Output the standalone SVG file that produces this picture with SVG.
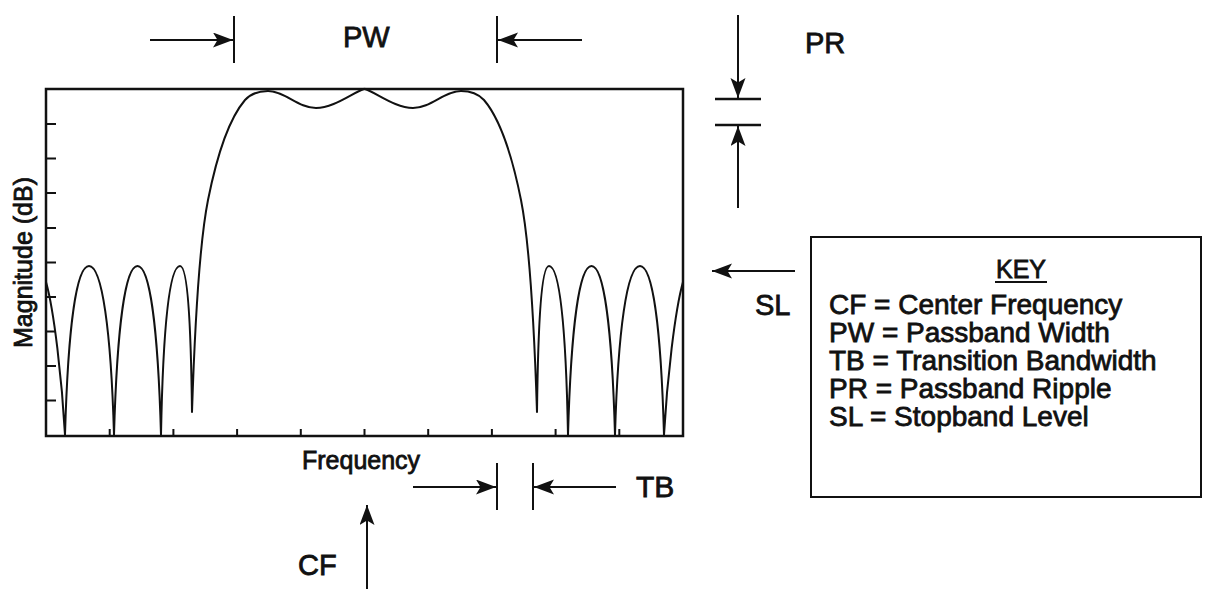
<svg xmlns="http://www.w3.org/2000/svg" xmlns:xlink="http://www.w3.org/1999/xlink" width="1205" height="589" viewBox="0 0 1205 589">
<style>
.ln{stroke:#111;stroke-width:2;fill:none}
.fr{stroke:#111;stroke-width:2.5;fill:none}
.cv{stroke:#111;stroke-width:2;fill:none;stroke-linejoin:round}
.tk{stroke:#111;stroke-width:2}
.t{font-family:"Liberation Sans",Arial,sans-serif;fill:#111;stroke:#111;stroke-width:0.8}
.arr{stroke:#111;stroke-width:2;fill:none;marker-end:url(#ah)}
</style>
<defs>
<marker id="ah" markerUnits="userSpaceOnUse" markerWidth="22" markerHeight="16" refX="20" refY="7.5" orient="auto">
<path d="M0,0 L20,7.5 L0,15 L4.5,7.5 Z" fill="#111"/>
</marker>
</defs>
<rect width="1205" height="589" fill="#fff"/>

<g id="plot">
<rect x="46" y="89" width="637" height="347" class="fr"/>
<g id="yticks">
<path class="tk" d="M46,124H56M46,158.5H56M46,193H56M46,228H56M46,262.5H56M46,297H56M46,331.5H56M46,366H56M46,400.5H56"/>
</g>
<g id="xticks">
<path class="tk" d="M109.7,436V429M173.4,436V429M237.1,436V429M300.8,436V429M364.5,436V429M428.2,436V429M491.9,436V429M555.6,436V429M619.3,436V429"/>
</g>
<g id="response">
<path id="halfcurve" class="cv" d="M46,282 C54,310 62,380 65,435 C68,330 76,266 89,266 C102,266 111,330 114,435 C117,330 125,266 137.5,266 C150,266 158,330 161,435 C163,330 169,266 180,266 C188,266 191,330 192,412 C195,320 200,240 208,200 C216,160 228,120 245,100 C252,92.5 260,91 268,91 C285,91 298,108 316,108 C334,108 352,93 364.5,88.8"/>
<use xlink:href="#halfcurve" href="#halfcurve" transform="matrix(-1,0,0,1,729,0)"/>
</g>
<text class="t" font-size="25" transform="translate(32,262.5) rotate(-90)" text-anchor="middle">Magnitude (dB)</text>
<text class="t" x="302" y="469" font-size="25">Frequency</text>
</g>

<g id="connectors">
<line class="arr" x1="150" y1="40" x2="233" y2="40"/>
<line class="ln" x1="234" y1="16" x2="234" y2="63"/>
<line class="arr" x1="582" y1="40" x2="498" y2="40"/>
<line class="ln" x1="497" y1="16" x2="497" y2="63"/>
<line class="arr" x1="738" y1="15" x2="738" y2="98"/>
<line class="fr" x1="715" y1="99" x2="761" y2="99"/>
<line class="fr" x1="715" y1="125" x2="761" y2="125"/>
<line class="arr" x1="738" y1="208" x2="738" y2="126"/>
<line class="arr" x1="795" y1="271" x2="712" y2="271"/>
<line class="arr" x1="413" y1="487" x2="496" y2="487"/>
<line class="ln" x1="497" y1="463" x2="497" y2="510"/>
<line class="arr" x1="616" y1="487" x2="534" y2="487"/>
<line class="ln" x1="533" y1="463" x2="533" y2="510"/>
<line class="arr" x1="367" y1="589" x2="367" y2="505"/>
</g>

<g id="label-pw"><text class="t" x="343" y="47" font-size="29">PW</text></g>
<g id="label-pr"><text class="t" x="805" y="53" font-size="29">PR</text></g>
<g id="label-sl"><text class="t" x="755" y="315" font-size="29">SL</text></g>
<g id="label-tb"><text class="t" x="636" y="497" font-size="30">TB</text></g>
<g id="label-cf"><text class="t" x="298" y="575" font-size="29">CF</text></g>

<g id="key">
<rect x="811" y="237" width="390" height="260" class="ln"/>
<text class="t" x="1021" y="278" font-size="25" text-anchor="middle">KEY</text>
<line x1="995" y1="282" x2="1047" y2="282" class="ln"/>
<text class="t" font-size="28" x="829" y="314">CF = Center Frequency</text>
<text class="t" font-size="28" x="829" y="342">PW = Passband Width</text>
<text class="t" font-size="28" x="829" y="370">TB = Transition Bandwidth</text>
<text class="t" font-size="28" x="829" y="398">PR = Passband Ripple</text>
<text class="t" font-size="28" x="829" y="426">SL = Stopband Level</text>
</g>
</svg>
